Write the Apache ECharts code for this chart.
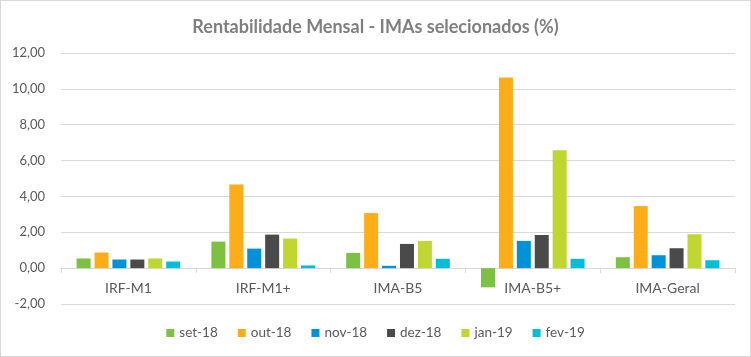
<!DOCTYPE html>
<html>
<head>
<meta charset="utf-8">
<script src="https://cdn.jsdelivr.net/npm/echarts@6/dist/echarts.min.js"></script>
<style>
html,body{margin:0;padding:0;background:#fff;}
#c{position:absolute;left:0;top:0;width:749px;height:355px;border:1px solid #d9d9d9;}
</style>
</head>
<body>
<div id="c"></div>
<script>
const categories = ['IRF-M1', 'IRF-M1+', 'IMA-B5', 'IMA-B5+', 'IMA-Geral'];
const seriesNames = ['set-18', 'out-18', 'nov-18', 'dez-18', 'jan-19', 'fev-19'];
const set18 = [0.54, 1.48, 0.85, -1.07, 0.61];
const out18 = [0.87, 4.67, 3.07, 10.63, 3.46];
const nov18 = [0.48, 1.09, 0.13, 1.52, 0.72];
const dez18 = [0.48, 1.87, 1.35, 1.85, 1.11];
const jan19 = [0.54, 1.65, 1.52, 6.57, 1.89];
const fev19 = [0.37, 0.15, 0.52, 0.52, 0.44];
const seriesValues = [set18, out18, nov18, dez18, jan19, fev19];
const colors = ['#7CC142', '#FDAD17', '#0092D8', '#4A4A4B', '#BFD730', '#00BED6'];
const yTicks = [-2, 0, 2, 4, 6, 8, 10, 12];

const chart = echarts.init(document.getElementById('c'));
const font = 'Lato, "Open Sans", sans-serif';
chart.setOption({
  animation: false,
  title: {
    text: 'Rentabilidade Mensal - IMAs selecionados (%)',
    left: 'center', top: 12,
    textStyle: {fontFamily: font, fontSize: 18, fontWeight: 'bold', color: '#7f7f7f'}
  },
  legend: {
    bottom: 11, left: 'center',
    itemWidth: 8, itemHeight: 8, itemGap: 20,
    icon: 'rect',
    textStyle: {fontFamily: font, fontSize: 13.5, color: '#595959'},
    data: seriesNames
  },
  grid: {left: 60, right: 15, top: 52, bottom: 52, containLabel: false},
  xAxis: {
    type: 'category', data: categories,
    axisLine: {lineStyle: {color: '#d9d9d9'}},
    axisTick: {show: true, length: 5, lineStyle: {color: '#d9d9d9'}},
    axisLabel: {fontFamily: font, fontSize: 14, color: '#595959', margin: -23}
  },
  yAxis: {
    type: 'value', min: yTicks[0], max: yTicks[yTicks.length - 1], interval: 2,
    axisLine: {show: false}, axisTick: {show: false},
    splitLine: {lineStyle: {color: '#d9d9d9'}},
    axisLabel: {fontFamily: font, fontSize: 13, color: '#595959', margin: 16,
      formatter: v => v.toFixed(2).replace('.', ',')}
  },
  series: seriesNames.map((n, i) => ({
    name: n, type: 'bar', data: seriesValues[i],
    itemStyle: {color: colors[i]},
    barWidth: 14, barGap: '28%'
  }))
});
</script>
</body>
</html>
